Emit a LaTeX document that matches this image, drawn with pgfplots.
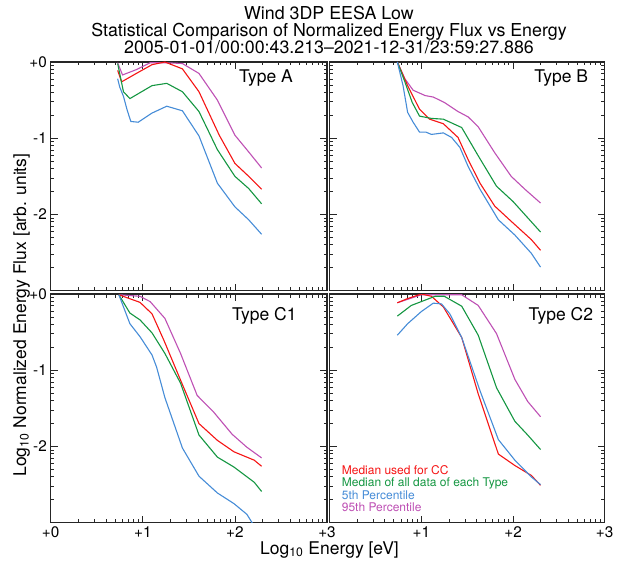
\documentclass[border=0pt]{standalone}
\usepackage{fontspec}
\setmainfont{TeX Gyre Heros}
\usepackage{pgfplots}
\pgfplotsset{compat=1.18}
\definecolor{cred}{RGB}{245,20,20}
\definecolor{cgreen}{RGB}{20,150,65}
\definecolor{cblue}{RGB}{70,140,215}
\definecolor{cmag}{RGB}{190,80,180}
\pgfplotsset{panel/.style={
  scale only axis, anchor=south west,
  xmin=0, xmax=3, ymin=-3, ymax=0,
  xtick={0,1,2,3}, ytick={-3,-2,-1,0},
  minor xtick={0.301,0.477,0.602,0.699,0.778,0.845,0.903,0.954,1.301,1.477,1.602,1.699,1.778,1.845,1.903,1.954,2.301,2.477,2.602,2.699,2.778,2.845,2.903,2.954},
  minor ytick={-0.046,-0.097,-0.155,-0.222,-0.301,-0.398,-0.523,-0.699,-1.046,-1.097,-1.155,-1.222,-1.301,-1.398,-1.523,-1.699,-2.046,-2.097,-2.155,-2.222,-2.301,-2.398,-2.523,-2.699},
  tick align=inside,
  major tick length=7pt, minor tick length=3.5pt,
  every tick/.style={line width=0.8pt, black!85},
  axis line style={line width=1.2pt, black!85},
  xticklabels={}, yticklabels={},
  xticklabel style={font=\fontsize{15.3}{16}\selectfont, inner sep=0pt, yshift=-3.3pt},
  yticklabel style={font=\fontsize{15.3}{16}\selectfont, inner sep=0pt, xshift=-3.7pt},
  every axis plot/.append style={line width=1.1pt, mark=none},
  clip=true,
}}
\begin{document}
\begin{tikzpicture}
\path[use as bounding box] (0pt,0pt) rectangle (626pt,560pt);
% Type A
\begin{axis}[panel, at={(50.7pt,269.3pt)}, width=276.3pt, height=228.7pt,
  yticklabels={{},-2,-1,+0}]
\addplot[cmag] coordinates {(0.727,-0.01)(0.78,-0.17)(0.93,-0.10)(1.08,-0.01)(1.26,-0.01)(1.43,-0.02)(1.61,-0.15)(1.81,-0.50)(2.00,-0.96)(2.15,-1.18)(2.29,-1.39)};
\addplot[cred] coordinates {(0.727,-0.11)(0.77,-0.26)(0.93,-0.15)(1.10,-0.035)(1.24,0)(1.43,-0.09)(1.61,-0.39)(1.83,-0.96)(2.00,-1.33)(2.15,-1.50)(2.29,-1.67)};
\addplot[cgreen] coordinates {(0.727,-0.02)(0.79,-0.39)(0.86,-0.48)(1.10,-0.31)(1.26,-0.28)(1.43,-0.39)(1.61,-0.65)(1.81,-1.15)(2.00,-1.50)(2.15,-1.66)(2.29,-1.86)};
\addplot[cblue] coordinates {(0.727,-0.22)(0.75,-0.33)(0.79,-0.45)(0.83,-0.63)(0.87,-0.78)(0.95,-0.79)(1.10,-0.67)(1.26,-0.58)(1.43,-0.64)(1.61,-0.97)(1.81,-1.59)(2.00,-1.90)(2.15,-2.07)(2.29,-2.26)};
\end{axis}
% Type B
\begin{axis}[panel, at={(329.7pt,269.3pt)}, width=275pt, height=228.7pt]
\addplot[cmag] coordinates {(0.738,0)(0.82,-0.22)(0.91,-0.37)(1.04,-0.44)(1.13,-0.46)(1.25,-0.53)(1.40,-0.65)(1.51,-0.72)(1.62,-0.85)(1.80,-1.19)(1.98,-1.50)(2.13,-1.67)(2.30,-1.85)};
\addplot[cred] coordinates {(0.738,0)(0.85,-0.31)(0.98,-0.62)(1.09,-0.75)(1.24,-0.81)(1.40,-0.99)(1.51,-1.28)(1.64,-1.59)(1.80,-1.89)(1.98,-2.09)(2.20,-2.33)(2.30,-2.47)};
\addplot[cgreen] coordinates {(0.738,0)(0.82,-0.26)(0.90,-0.53)(0.98,-0.71)(1.11,-0.74)(1.24,-0.75)(1.44,-0.86)(1.62,-1.23)(1.82,-1.63)(2.00,-1.83)(2.30,-2.23)};
\addplot[cblue] coordinates {(0.738,0)(0.80,-0.31)(0.85,-0.66)(0.91,-0.79)(0.98,-0.92)(1.05,-0.92)(1.11,-0.95)(1.24,-0.93)(1.33,-0.99)(1.42,-1.12)(1.51,-1.37)(1.64,-1.67)(1.84,-2.07)(2.02,-2.27)(2.20,-2.51)(2.30,-2.69)};
\end{axis}
% Type C1
\begin{axis}[panel, at={(50.7pt,37.3pt)}, width=276.3pt, height=228.7pt,
  yticklabels={{},-2,-1,+0}, xticklabels={+0,+1,+2,+3}]
\addplot[cmag] coordinates {(0.74,-0.01)(0.97,-0.03)(1.08,-0.10)(1.24,-0.32)(1.41,-0.78)(1.59,-1.33)(1.77,-1.55)(1.97,-1.84)(2.13,-2.01)(2.29,-2.15)};
\addplot[cred] coordinates {(0.74,-0.01)(0.97,-0.11)(1.10,-0.26)(1.23,-0.61)(1.41,-1.13)(1.61,-1.70)(1.81,-1.92)(1.99,-2.07)(2.21,-2.18)(2.29,-2.26)};
\addplot[cgreen] coordinates {(0.74,-0.01)(0.86,-0.25)(0.97,-0.34)(1.10,-0.51)(1.24,-0.78)(1.41,-1.17)(1.61,-1.85)(1.81,-2.14)(1.99,-2.27)(2.21,-2.47)(2.29,-2.59)};
\addplot[cblue] coordinates {(0.74,-0.01)(0.86,-0.39)(0.97,-0.56)(1.10,-0.80)(1.15,-0.96)(1.24,-1.36)(1.43,-2.02)(1.61,-2.39)(1.81,-2.61)(1.99,-2.75)(2.13,-2.89)(2.29,-3.2)};
\end{axis}
% Type C2
\begin{axis}[panel, at={(329.7pt,37.3pt)}, width=275pt, height=228.7pt,
  xticklabels={{},+1,+2,+3}]
\addplot[cmag] coordinates {(0.738,-0.115)(1.00,-0.01)(1.44,-0.01)(1.62,-0.15)(1.82,-0.52)(2.02,-1.12)(2.16,-1.41)(2.30,-1.61)};
\addplot[cred] coordinates {(0.738,-0.115)(0.85,-0.06)(1.00,0)(1.11,-0.03)(1.24,-0.17)(1.44,-0.57)(1.62,-1.31)(1.84,-2.10)(2.02,-2.25)(2.20,-2.38)(2.30,-2.51)};
\addplot[cgreen] coordinates {(0.738,-0.29)(0.89,-0.15)(1.15,-0.03)(1.25,-0.03)(1.44,-0.16)(1.62,-0.54)(1.82,-1.23)(2.02,-1.67)(2.16,-1.85)(2.30,-2.04)};
\addplot[cblue] coordinates {(0.738,-0.54)(0.85,-0.39)(1.00,-0.23)(1.13,-0.12)(1.22,-0.13)(1.31,-0.26)(1.44,-0.57)(1.64,-1.27)(1.84,-1.91)(2.02,-2.18)(2.20,-2.40)(2.30,-2.50)};
\node[anchor=base west, text=cred, font=\fontsize{12}{12}\selectfont, inner sep=0pt] at (rel axis cs:0.0436,0.212) {Median used for CC};
\node[anchor=base west, text=cgreen, font=\fontsize{12}{12}\selectfont, inner sep=0pt] at (rel axis cs:0.0436,0.157) {Median of all data of each Type};
\node[anchor=base west, text=cblue, font=\fontsize{12}{12}\selectfont, inner sep=0pt] at (rel axis cs:0.0436,0.102) {5th Percentile};
\node[anchor=base west, text=cmag, font=\fontsize{12}{12}\selectfont, inner sep=0pt] at (rel axis cs:0.0436,0.047) {95th Percentile};
\end{axis}
% panel labels
\node[anchor=base east, inner sep=0pt, font=\fontsize{17.5}{18}\selectfont] at (293pt,477.3pt) {Type A};
\node[anchor=base east, inner sep=0pt, font=\fontsize{17.5}{18}\selectfont] at (588.3pt,477.3pt) {Type B};
\node[anchor=base east, inner sep=0pt, font=\fontsize{17.5}{18}\selectfont] at (296.7pt,239pt) {Type C1};
\node[anchor=base east, inner sep=0pt, font=\fontsize{17.5}{18}\selectfont] at (593.3pt,239pt) {Type C2};
% titles
\node[anchor=base, inner sep=0pt, font=\fontsize{17.8}{18}\selectfont] at (329pt,540.5pt) {Wind 3DP EESA Low};
\node[anchor=base, inner sep=0pt, font=\fontsize{17.8}{18}\selectfont] at (329pt,523pt) {Statistical Comparison of Normalized Energy Flux vs Energy};
\node[anchor=base, inner sep=0pt, font=\fontsize{17.8}{18}\selectfont] at (329pt,506pt) {2005-01-01/00:00:43.213--2021-12-31/23:59:27.886};
% axis labels
\node[anchor=base, inner sep=0pt, font=\fontsize{17.5}{18}\selectfont] at (329.5pt,6pt) {Log\textsubscript{10} Energy [eV]};
\node[anchor=base west, rotate=90, inner sep=0pt, font=\fontsize{17.5}{18}\selectfont] at (26pt,83.3pt) {Log\textsubscript{10} Normalized Energy Flux [arb. units]};
\end{tikzpicture}
\end{document}
